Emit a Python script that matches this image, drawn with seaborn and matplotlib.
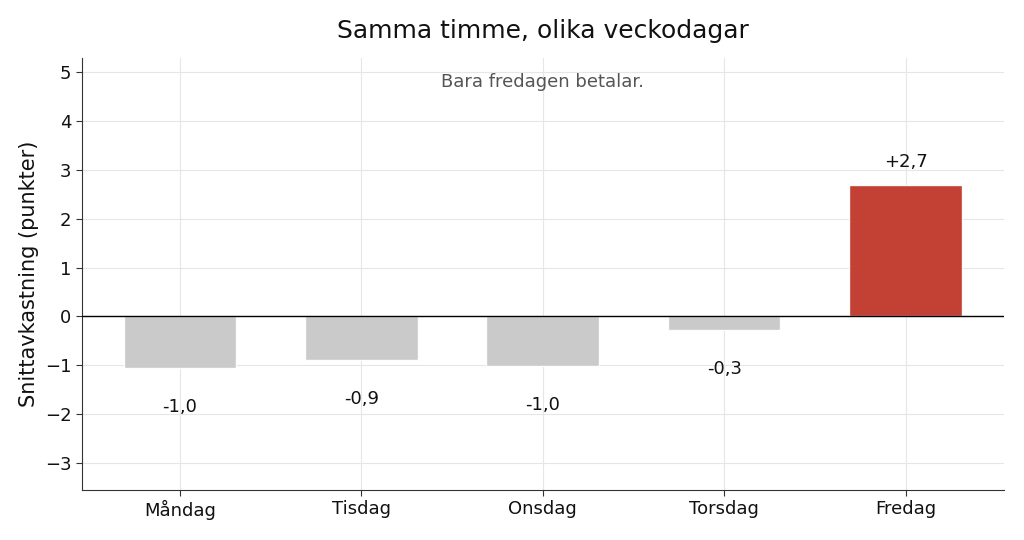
import numpy as np
import matplotlib
matplotlib.use("Agg")
import matplotlib.pyplot as plt
import pandas as pd
import seaborn as sns

# Data
days = ['Måndag', 'Tisdag', 'Onsdag', 'Torsdag', 'Fredag']
avg_return = [-1.05, -0.90, -1.02, -0.28, 2.70]
labels = ['-1,0', '-0,9', '-1,0', '-0,3', '+2,7']

df = pd.DataFrame({'day': days, 'ret': avg_return})
colors = ['#c8c8c8'] * 4 + ['#c0392b']

sns.set_style('white')
plt.rcParams['font.family'] = ['DejaVu Sans']
plt.rcParams['text.color'] = '#111111'
plt.rcParams['axes.labelcolor'] = '#111111'
plt.rcParams['xtick.color'] = '#111111'
plt.rcParams['ytick.color'] = '#111111'

fig, ax = plt.subplots(figsize=(10.24, 5.4), dpi=100)
sns.barplot(data=df, x='day', y='ret', hue='day', palette=colors,
            legend=False, width=0.62, saturation=1, alpha=0.96, ax=ax)
# seaborn switches the categorical grid off, so turn it back on
ax.grid(True, axis='both', color='#e6e6e6', linewidth=0.8)
ax.set_axisbelow(True)

ax.axhline(0, color='black', linewidth=1, zorder=3)

for i, (v, lab) in enumerate(zip(avg_return, labels)):
    y = v + 0.46 if v > 0 else v - 0.8
    ax.text(i, y, lab, ha='center', va='center', fontsize=13)

ax.text(0.5, 0.944, 'Bara fredagen betalar.', transform=ax.transAxes,
        ha='center', va='center', fontsize=13, color='#555555')

ax.set_ylim(-3.55, 5.3)
ax.set_xlim(-0.54, 4.54)
ax.set_yticks(range(-3, 6))
ax.set_title('Samma timme, olika veckodagar', fontsize=18, pad=14)
ax.set_xlabel('')
ax.set_ylabel('Snittavkastning (punkter)', fontsize=15)
ax.tick_params(axis='both', labelsize=13, length=4, color='#333333')
ax.tick_params(axis='both', left=True, bottom=True)
for s in ['top', 'right']:
    ax.spines[s].set_visible(False)
for s in ['left', 'bottom']:
    ax.spines[s].set_color('#333333')

plt.subplots_adjust(left=0.08, right=0.98, top=0.893, bottom=0.093)
plt.savefig('out.png', dpi=100)
